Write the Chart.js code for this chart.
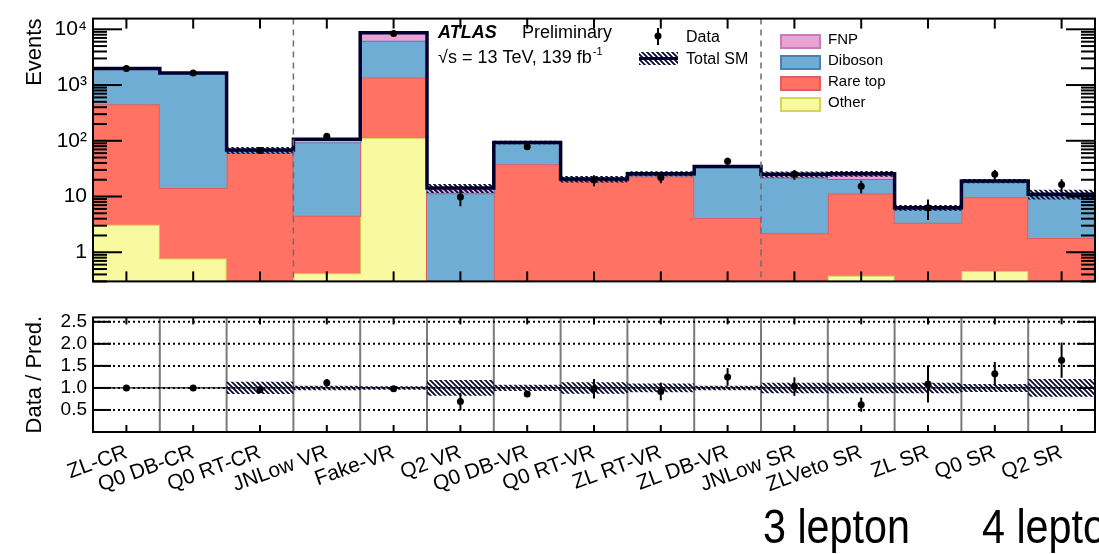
<!DOCTYPE html>
<html>
<head>
<meta charset="utf-8">
<script src="https://cdn.jsdelivr.net/npm/chart.js@4.4.1/dist/chart.umd.min.js"></script>
<style>
  body { margin: 0; background: #fff; width: 1099px; height: 554px; position: relative; overflow: hidden;
         font-family: 'Liberation Sans', Arial, sans-serif; }
  #top { position: absolute; left: 0; top: 0; }
  #bot { position: absolute; left: 0; top: 300px; }
  .lep { position: absolute; top: 503px; font-size: 48px; line-height: 1; color: #000;
         transform: scaleX(0.86); transform-origin: left top; white-space: nowrap; }
</style>
</head>
<body>
<canvas id="top" width="1099" height="300"></canvas>
<canvas id="bot" width="1099" height="254"></canvas>
<div class="lep" style="left:763px">3 lepton</div>
<div class="lep" style="left:982px">4 lepton</div>
<script>
// region names, one bin each
const categories = ['ZL-CR', 'Q0 DB-CR', 'Q0 RT-CR', 'JNLow VR', 'Fake-VR', 'Q2 VR', 'Q0 DB-VR', 'Q0 RT-VR',
                    'ZL RT-VR', 'ZL DB-VR', 'JNLow SR', 'ZLVeto SR', 'ZL SR', 'Q0 SR', 'Q2 SR'];

// background yields (events), stacked bottom to top
const other   = [3.1, 0.77, 0.1, 0.42, 112, 0.05, 0.1, 0.1, 0.1, 0.1, 0.1, 0.38, 0.1, 0.46, 0.1];
const rareTop = [450, 13.4, 60, 4.1, 1258, 0.2, 38, 19, 22.8, 4, 2.1, 11, 3.3, 9.3, 1.7];
const diboson = [1504, 1615, 7, 90, 4830, 11.2, 53, 1, 1.8, 29.3, 19.8, 9.3, 2.6, 8.7, 8.6];
const fnp     = [20, 15, 1, 12, 2430, 2.7, 2, 0.5, 1, 1, 3, 5, 0.3, 0.5, 0.6];

// relative uncertainty of total SM (hatched band)
const sysErr = [0.01, 0.01, 0.14, 0.05, 0.04, 0.18, 0.07, 0.13, 0.1, 0.05, 0.12, 0.12, 0.12, 0.09, 0.2];

// observed data
const dataEvents = [1977, 1644, 67, 120, 8400, 9.8, 78, 19.7, 22, 43, 25, 15.3, 6.3, 25, 16.4];
const dataErr    = [44, 41, 8.2, 11, 92, 3.1, 8.8, 4.4, 4.7, 6.6, 5, 3.9, 2.5, 5, 4];

// data / prediction
const ratio    = [1.0, 1.0, 0.96, 1.12, 0.98, 0.69, 0.86, 0.98, 0.92, 1.25, 1.03, 0.62, 1.09, 1.32, 1.63];
const ratioErr = [0.02, 0.02, 0.07, 0.08, 0.02, 0.2, 0.05, 0.22, 0.2, 0.2, 0.21, 0.16, 0.42, 0.27, 0.4];

const yTicksTop = [1, 10, 100, 1000, 10000];
const yTickLabelsTop = ['1', '10', '10²', '10³', '10⁴'];
const yTicksRatio = [0.5, 1.0, 1.5, 2.0, 2.5];
const regionEdges = [3, 10]; // CR | VR | SR separators

const FONT = "'Liberation Sans', Arial, sans-serif";
Chart.defaults.font.family = FONT;
Chart.defaults.color = '#000';

// cumulative stack for the filled steps
const cumOther = other.slice();
const cumRare = cumOther.map((v, i) => v + rareTop[i]);
const cumDib = cumRare.map((v, i) => v + diboson[i]);
const totalSM = cumDib.map((v, i) => v + fnp[i]);

function stepPoints(vals) {
  const pts = vals.map((v, i) => ({ x: i, y: v }));
  pts.push({ x: vals.length, y: vals[vals.length - 1] });
  return pts;
}

function makeHatch(ctx) {
  const t = document.createElement('canvas');
  t.width = t.height = 5;
  const g = t.getContext('2d');
  g.strokeStyle = '#06062e';
  g.lineWidth = 1.8;
  g.beginPath();
  g.moveTo(-1, -1); g.lineTo(6, 6);
  g.moveTo(-4, 1); g.lineTo(4, 9);
  g.moveTo(1, -4); g.lineTo(9, 4);
  g.stroke();
  return ctx.createPattern(t, 'repeat');
}

function line(ctx, x1, y1, x2, y2) {
  ctx.beginPath(); ctx.moveTo(x1, y1); ctx.lineTo(x2, y2); ctx.stroke();
}

function layer(label, vals, fillCol, lineCol, fill, order) {
  return { label, data: stepPoints(vals), stepped: 'before', backgroundColor: fillCol, borderColor: lineCol,
           borderWidth: 2, pointRadius: 0, fill, order };
}

const topCtx = document.getElementById('top').getContext('2d');
const botCtx = document.getElementById('bot').getContext('2d');
const hatchTop = makeHatch(topCtx);
const hatchBot = makeHatch(botCtx);

const topDecor = {
  id: 'topDecor',
  afterDatasetsDraw(chart) {
    const { ctx, chartArea: a, scales: { x, y } } = chart;
    ctx.save();
    ctx.strokeStyle = '#6e6e6e'; ctx.lineWidth = 1.5; ctx.setLineDash([6, 5]);
    regionEdges.forEach(e => { const px = x.getPixelForValue(e); line(ctx, px, a.top, px, a.bottom); });
    ctx.setLineDash([]);
    ctx.strokeStyle = '#000'; ctx.lineWidth = 2;
    dataEvents.forEach((v, i) => {
      const px = x.getPixelForValue(i + 0.5);
      line(ctx, px, y.getPixelForValue(v + dataErr[i]), px, y.getPixelForValue(v - dataErr[i]));
    });
    ctx.restore();
  },
  afterDraw(chart) {
    const { ctx, chartArea: a, scales: { x, y } } = chart;
    ctx.save();
    ctx.strokeStyle = '#000'; ctx.lineWidth = 2;
    ctx.strokeRect(a.left, a.top, a.right - a.left, a.bottom - a.top);
    // x ticks at bin centres
    categories.forEach((c, i) => {
      const px = x.getPixelForValue(i + 0.5);
      line(ctx, px, a.top, px, a.top + 10);
      line(ctx, px, a.bottom, px, a.bottom - 10);
    });
    // log ticks, major and minor, both sides
    yTicksTop.forEach(v => {
      const py = y.getPixelForValue(v);
      line(ctx, a.left, py, a.left + 29, py);
      line(ctx, a.right, py, a.right - 29, py);
    });
    for (let d = -1; d <= 4; d++) {
      for (let k = 2; k <= 9; k++) {
        const v = k * Math.pow(10, d);
        if (v < y.min || v > y.max) continue;
        const py = y.getPixelForValue(v);
        line(ctx, a.left, py, a.left + 14, py);
        line(ctx, a.right, py, a.right - 14, py);
      }
    }
    // ATLAS label
    ctx.fillStyle = '#000';
    ctx.textBaseline = 'alphabetic';
    ctx.font = 'bold italic 18px ' + FONT;
    ctx.fillText('ATLAS', 438, 38);
    ctx.font = '18px ' + FONT;
    ctx.fillText('Preliminary', 522, 38);
    const lumi = '√s = 13 TeV, 139 fb';
    ctx.fillText(lumi, 438, 63);
    const w = ctx.measureText(lumi).width;
    ctx.font = '11px ' + FONT;
    ctx.fillText('-1', 438 + w + 1, 55);
    // Data / Total SM legend
    ctx.font = '16px ' + FONT;
    line(ctx, 658, 28, 658, 45);
    ctx.beginPath(); ctx.arc(658, 36, 3.5, 0, Math.PI * 2); ctx.fill();
    ctx.fillText('Data', 686, 42);
    ctx.fillStyle = hatchTop;
    ctx.fillRect(639, 52, 39, 13);
    ctx.strokeStyle = '#00002e'; ctx.lineWidth = 3;
    line(ctx, 639, 58.5, 678, 58.5);
    ctx.fillStyle = '#000';
    ctx.fillText('Total SM', 686, 64);
    // background legend
    const entries = [['FNP', '#e8a3d4', '#c77db5'], ['Diboson', '#6fadd4', '#4f7fae'],
                     ['Rare top', '#ff7264', '#e05d62'], ['Other', '#f9f9a0', '#d4d65c']];
    ctx.font = '15px ' + FONT;
    ctx.textBaseline = 'middle';
    entries.forEach(([name, f, b], i) => {
      const yc = 40 + i * 21;
      ctx.fillStyle = f; ctx.fillRect(781, yc - 5, 39, 13);
      ctx.strokeStyle = b; ctx.lineWidth = 2; ctx.strokeRect(781, yc - 5, 39, 13);
      ctx.fillStyle = '#000'; ctx.fillText(name, 828, yc);
    });
    ctx.restore();
  }
};

const botDecor = {
  id: 'botDecor',
  beforeDatasetsDraw(chart) {
    const { ctx, chartArea: a, scales: { x, y } } = chart;
    ctx.save();
    ctx.strokeStyle = '#7a7a7a'; ctx.lineWidth = 2;
    for (let e = 1; e < categories.length; e++) {
      const px = x.getPixelForValue(e);
      line(ctx, px, a.top, px, a.bottom);
    }
    ctx.strokeStyle = '#000'; ctx.lineWidth = 1;
    line(ctx, a.left, y.getPixelForValue(1), a.right, y.getPixelForValue(1));
    ctx.lineWidth = 2; ctx.setLineDash([2, 3]);
    yTicksRatio.forEach(v => { const py = y.getPixelForValue(v); line(ctx, a.left, py, a.right, py); });
    ctx.restore();
  },
  afterDatasetsDraw(chart) {
    const { ctx, scales: { x, y } } = chart;
    ctx.save();
    ctx.strokeStyle = '#000'; ctx.lineWidth = 2;
    ratio.forEach((v, i) => {
      const px = x.getPixelForValue(i + 0.5);
      line(ctx, px, y.getPixelForValue(v + ratioErr[i]), px, y.getPixelForValue(v - ratioErr[i]));
    });
    ctx.restore();
  },
  afterDraw(chart) {
    const { ctx, chartArea: a, scales: { x, y } } = chart;
    ctx.save();
    ctx.strokeStyle = '#000'; ctx.lineWidth = 2;
    ctx.strokeRect(a.left, a.top, a.right - a.left, a.bottom - a.top);
    categories.forEach((c, i) => {
      const px = x.getPixelForValue(i + 0.5);
      line(ctx, px, a.top, px, a.top + 7);
      line(ctx, px, a.bottom, px, a.bottom - 7);
    });
    yTicksRatio.forEach(v => {
      const py = y.getPixelForValue(v);
      line(ctx, a.left, py, a.left + 18, py);
      line(ctx, a.right, py, a.right - 18, py);
    });
    ctx.restore();
  }
};

new Chart(topCtx, {
  type: 'line',
  data: {
    datasets: [
      layer('Other', cumOther, '#f9f9a0', '#d4d65c', 'start', 7),
      layer('Rare top', cumRare, '#ff7264', '#e05d62', '-1', 6),
      layer('Diboson', cumDib, '#6fadd4', '#4f7fae', '-1', 5),
      layer('FNP', totalSM, '#e8a3d4', '#c77db5', '-1', 4),
      { label: 'band low', data: stepPoints(totalSM.map((v, i) => v * (1 - sysErr[i]))), stepped: 'before',
        borderColor: 'rgba(0,0,0,0)', borderWidth: 1, pointRadius: 0, fill: false, order: 3 },
      { label: 'Total SM', data: stepPoints(totalSM.map((v, i) => v * (1 + sysErr[i]))), stepped: 'before',
        borderColor: 'rgba(0,0,0,0)', borderWidth: 1, pointRadius: 0, fill: '-1', backgroundColor: hatchTop, order: 3 },
      { label: 'Total line', data: stepPoints(totalSM), stepped: 'before', borderColor: '#00002e', borderWidth: 3.5,
        pointRadius: 0, fill: false, order: 1 },
      { label: 'Data', data: dataEvents.map((v, i) => ({ x: i + 0.5, y: v })), showLine: false, pointRadius: 3.5,
        pointBackgroundColor: '#000', pointBorderWidth: 0, order: 0 }
    ]
  },
  options: {
    responsive: false, animation: false, events: [],
    layout: { padding: { top: 7, right: 4, bottom: 2, left: 0 } },
    plugins: { legend: { display: false }, tooltip: { enabled: false } },
    scales: {
      x: { type: 'linear', min: 0, max: 15, display: false },
      y: {
        type: 'logarithmic', min: 0.344, max: 15560,
        afterBuildTicks: ax => { ax.ticks = yTicksTop.map(v => ({ value: v })); },
        afterFit: ax => { ax.width = 93; },
        grid: { display: false, drawTicks: false }, border: { display: false },
        ticks: { padding: 6, color: '#000', font: { size: 21 }, callback: (v, i) => yTickLabelsTop[i] },
        title: { display: true, text: 'Events', align: 'end', color: '#000', font: { size: 22 },
                 padding: { top: 22, bottom: 0 } }
      }
    }
  },
  plugins: [topDecor]
});

new Chart(botCtx, {
  type: 'line',
  data: {
    datasets: [
      { label: 'band low', data: stepPoints(sysErr.map(e => 1 - e)), stepped: 'before',
        borderColor: 'rgba(0,0,0,0)', borderWidth: 1, pointRadius: 0, fill: false, order: 3 },
      { label: 'band', data: stepPoints(sysErr.map(e => 1 + e)), stepped: 'before',
        borderColor: 'rgba(0,0,0,0)', borderWidth: 1, pointRadius: 0, fill: '-1', backgroundColor: hatchBot, order: 3 },
      { label: 'Data / Pred.', data: ratio.map((v, i) => ({ x: i + 0.5, y: v })), showLine: false, pointRadius: 3.5,
        pointBackgroundColor: '#000', pointBorderWidth: 0, order: 0 }
    ]
  },
  options: {
    responsive: false, animation: false, events: [],
    layout: { padding: { top: 4, right: 4, bottom: 0, left: 0 } },
    plugins: { legend: { display: false }, tooltip: { enabled: false } },
    scales: {
      x: {
        type: 'linear', min: 0, max: 15,
        afterBuildTicks: ax => { ax.ticks = categories.map((c, i) => ({ value: i + 0.5 })); },
        afterFit: ax => { ax.height = 122; },
        grid: { display: false, drawTicks: false }, border: { display: false },
        ticks: { autoSkip: false, minRotation: 20, maxRotation: 20, padding: 8, color: '#000',
                 font: { size: 21 }, callback: (v, i) => categories[i] }
      },
      y: {
        min: 0, max: 2.6,
        afterBuildTicks: ax => { ax.ticks = yTicksRatio.map(v => ({ value: v })); },
        afterFit: ax => { ax.width = 93; },
        grid: { display: false, drawTicks: false }, border: { display: false },
        ticks: { padding: 6, color: '#000', font: { size: 19 }, callback: v => v.toFixed(1) },
        title: { display: true, text: 'Data / Pred.', color: '#000', font: { size: 22 },
                 padding: { top: 22, bottom: 0 } }
      }
    }
  },
  plugins: [botDecor]
});
</script>
</body>
</html>
